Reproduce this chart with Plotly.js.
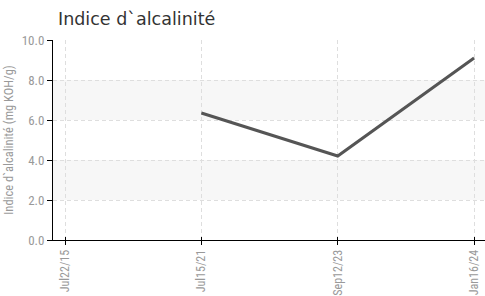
<!DOCTYPE html>
<html>
<head>
<meta charset="utf-8">
<script src="https://cdn.plot.ly/plotly-3.0.1.min.js"></script>
<style>html,body{margin:0;padding:0;background:#fff}#chart{width:485px;height:296px}</style>
</head>
<body>
<div id="chart"></div>
<script>
var categories = ["Jul22/15", "Jul15/21", "Sep12/23", "Jan16/24"];
var values = [null, 6.35, 4.2, 9.1];
var yTickVals = [0, 2, 4, 6, 8, 10];
var yTickText = ["0.0", "2.0", "4.0", "6.0", "8.0", "10.0"];
var bands = [[2, 4], [6, 8]];

var condensed = "'Liberation Sans Narrow', 'Roboto Condensed', 'Arial Narrow', sans-serif";
var shapes = bands.map(function (b) {
  return {type: 'rect', xref: 'paper', yref: 'y', x0: 0, x1: 1, y0: b[0], y1: b[1],
          fillcolor: '#f7f7f7', line: {width: 0}, layer: 'below'};
});

Plotly.newPlot('chart', [{
  x: categories, y: values, type: 'scatter', mode: 'lines',
  line: {color: '#555555', width: 3}, connectgaps: false, hoverinfo: 'none'
}, {
  x: categories, y: values, xaxis: 'x2', type: 'scatter', mode: 'lines',
  line: {color: 'rgba(0,0,0,0)', width: 0}, hoverinfo: 'none'
}], {
  width: 485, height: 296,
  margin: {l: 53, r: 0, t: 40, b: 56},
  paper_bgcolor: '#ffffff', plot_bgcolor: '#ffffff',
  title: {text: "Indice d`alcalinité", x: 58 / 485, xanchor: 'left', xref: 'container',
          y: 1 - 19 / 296, yanchor: 'middle', yref: 'container',
          font: {family: "'DejaVu Sans', sans-serif", size: 17.5, color: '#333'}},
  showlegend: false,
  shapes: shapes,
  xaxis: {type: 'category', range: [-0.088, 3.08], showline: true, linecolor: '#000', linewidth: 1,
          ticks: 'outside', ticklen: 4, tickcolor: '#000', showgrid: true, gridcolor: '#dedede',
          griddash: '4px,3px', gridwidth: 1, tickangle: -90, zeroline: false,
          tickfont: {family: condensed, size: 12, color: '#999'}},
  xaxis2: {type: 'category', overlaying: 'x', matches: 'x', side: 'bottom', anchor: 'y',
           showline: false, ticks: 'inside', ticklen: 3, tickcolor: '#000', showgrid: false,
           showticklabels: false, zeroline: false},
  yaxis: {range: [0, 10], tickvals: yTickVals, ticktext: yTickText, showline: true, linecolor: '#000',
          linewidth: 1, ticks: 'outside', ticklen: 5, tickcolor: '#000', showgrid: true,
          gridcolor: '#dedede', griddash: '4px,3px', zeroline: false,
          tickfont: {family: condensed, size: 13, color: '#999'},
          title: {text: "Indice d`alcalinité (mg KOH/g)", standoff: 5,
                  font: {family: condensed, size: 12.5, color: '#999'}}}
}, {displayModeBar: false, staticPlot: true});
</script>
</body>
</html>
